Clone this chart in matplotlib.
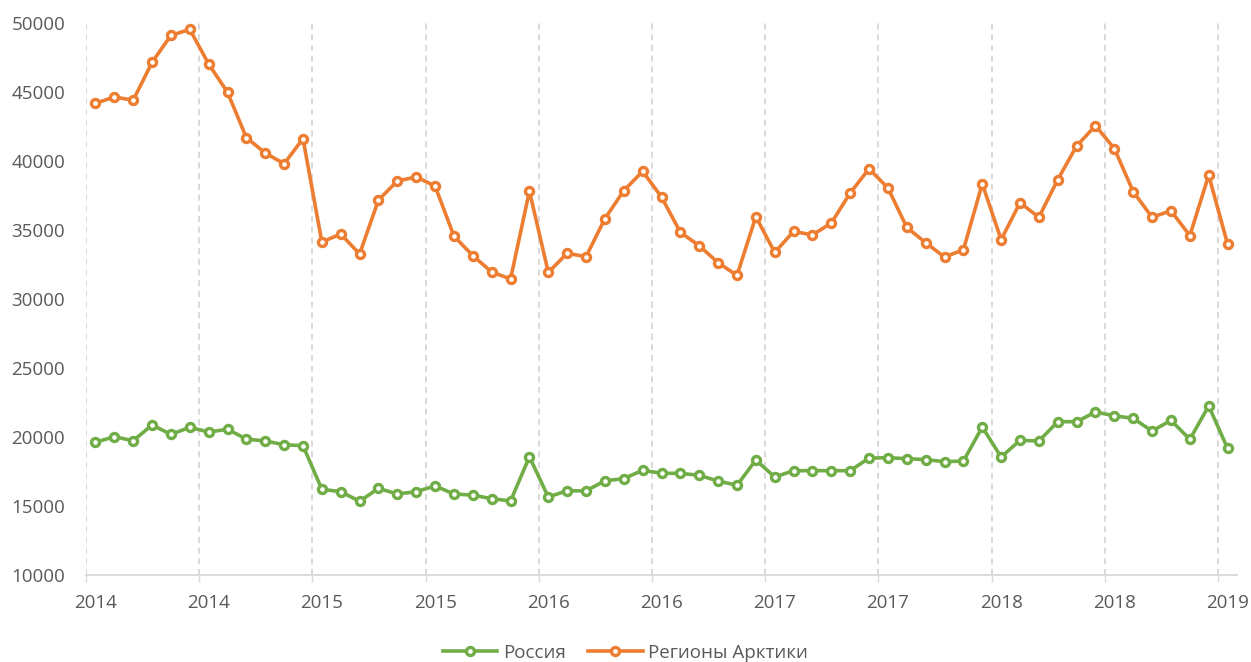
import matplotlib
matplotlib.use("Agg")
import matplotlib.pyplot as plt
import numpy as np

plt.rcParams['font.family'] = ['Open Sans', 'DejaVu Sans']

series_names = ["Россия", "Регионы Арктики"]

russia = [19620, 20020, 19730, 20870, 20190, 20700, 20360, 20560, 19850, 19710, 19440, 19370,
          16210, 16040, 15340, 16280, 15870, 16040, 16450, 15870, 15790, 15530, 15360, 18570,
          15650, 16110, 16090, 16830, 16980, 17590, 17370, 17370, 17220, 16810, 16500, 18330,
          17100, 17560, 17560, 17560, 17560, 18470, 18500, 18430, 18360, 18210, 18260, 20720,
          18550, 19760, 19710, 21110, 21110, 21810, 21540, 21350, 20430, 21210, 19830, 22250,
          19180]

arctic = [44180, 44640, 44400, 47150, 49100, 49540, 47030, 44980, 41690, 40580, 39800, 41620,
          34130, 34710, 33260, 37170, 38550, 38840, 38190, 34560, 33140, 31960, 31450, 37820,
          31930, 33310, 33070, 35820, 37850, 39250, 37390, 34830, 33860, 32630, 31710, 35970,
          33370, 34900, 34640, 35510, 37680, 39440, 38040, 35190, 34080, 33040, 33570, 38350,
          34300, 36980, 35920, 38650, 41090, 42560, 40900, 37780, 35920, 36400, 34590, 38970,
          33980]

tick_labels = ["2014", "2014", "2015", "2015", "2016", "2016", "2017", "2017", "2018", "2018", "2019"]
y_ticks = [10000, 15000, 20000, 25000, 30000, 35000, 40000, 45000, 50000]

colors = ["#70AD47", "#ED7D31"]
text_color = "#595959"

fig = plt.figure(figsize=(12.51, 6.62), dpi=100)
ax = fig.add_axes([86/1251, 1 - 575/662, (1237 - 86)/1251, (575 - 23)/662])

n = len(russia)
x = np.arange(n) + 0.5
for vals, name, c in zip([russia, arctic], series_names, colors):
    ax.plot(x, vals, color=c, lw=2.6, marker='o', ms=5.8, mew=2.4,
            mfc='white', mec=c, label=name, solid_joinstyle='round', zorder=3)

ax.set_xlim(0, n)
ax.set_ylim(10000, 50000)
ax.set_yticks(y_ticks)
ax.set_yticklabels([str(v) for v in y_ticks])

grid_pos = np.arange(0, n, 6)
ax.set_xticks(grid_pos)
ax.set_xticklabels([])
ax.set_xticks(grid_pos + 0.5, minor=True)
ax.set_xticklabels(tick_labels, minor=True)
for g in grid_pos:
    ax.axvline(g, color="#d0d0d0", lw=1.1, ls=(0, (4, 3)), zorder=1)

ax.tick_params(axis='x', which='major', length=5, width=1, color="#d9d9d9", direction='out')
ax.tick_params(axis='x', which='minor', length=0, pad=14, labelsize=13.5, labelcolor=text_color)
ax.tick_params(axis='y', length=0, pad=15, labelsize=13.5, labelcolor=text_color)

for s in ['top', 'right', 'left']:
    ax.spines[s].set_visible(False)
ax.spines['bottom'].set_color("#d9d9d9")
ax.spines['bottom'].set_linewidth(1.3)

leg = fig.legend(loc='center', bbox_to_anchor=(0.5, 1 - 653/662), ncol=2, frameon=False,
                 fontsize=13.5, handlelength=2.9, columnspacing=1.2, handletextpad=0.3)
for t in leg.get_texts():
    t.set_color(text_color)

fig.savefig("out.png", dpi=100, facecolor='white')
